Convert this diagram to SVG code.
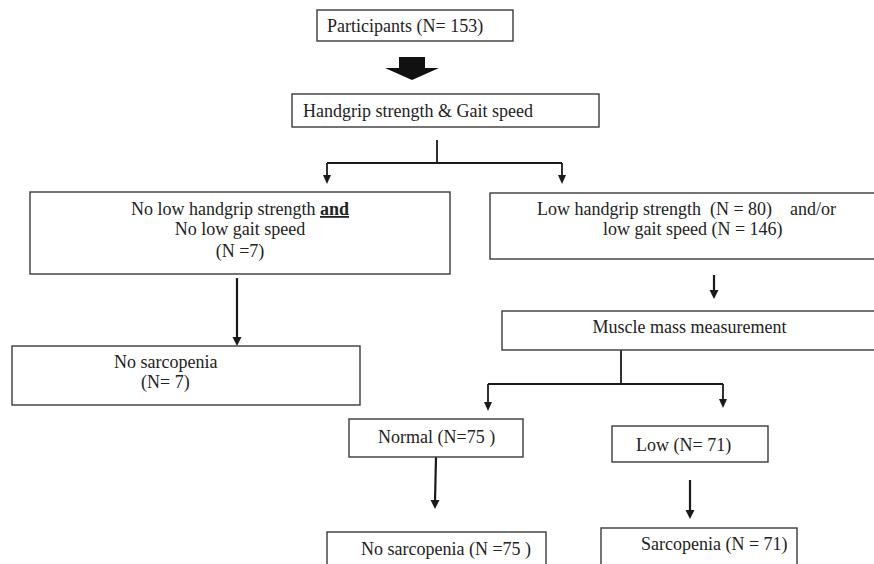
<svg xmlns="http://www.w3.org/2000/svg" width="874" height="564" viewBox="0 0 874 564">
<style>
.box{fill:#fff;stroke:#3a3a3a;stroke-width:1.4}
.t{font-family:"Liberation Serif","Times New Roman",serif;font-size:18px;fill:#222}
.c{fill:none;stroke:#1a1a1a;stroke-width:1.8}
.m{text-anchor:middle}
</style>
<rect width="874" height="564" fill="#fff"/>
<g id="connectors">
<polygon points="399,57 425,57 425,68 439,68 412,80 385,68 399,68" fill="#111"/>
<path class="c" d="M437,140 V163 M327,163 H562"/>
<path class="c" d="M327,163 V176"/>
<polygon points="323,175 331,175 327,184" fill="#1a1a1a"/>
<path class="c" d="M562,163 V176"/>
<polygon points="558,175 566,175 562,184" fill="#1a1a1a"/>
<path class="c" d="M237,278 V338" style="stroke-width:2.2"/>
<polygon points="232.5,337 241.5,337 237,346" fill="#1a1a1a"/>
<path class="c" d="M714,275 V291" style="stroke-width:2.2"/>
<polygon points="709.5,290 718.5,290 714,299" fill="#1a1a1a"/>
<path class="c" d="M621,350 V384 M488,384 H723"/>
<path class="c" d="M488,384 V403"/>
<polygon points="484,402 492,402 488,411" fill="#1a1a1a"/>
<path class="c" d="M723,384 V400"/>
<polygon points="719,399 727,399 723,408" fill="#1a1a1a"/>
<path class="c" d="M436,457 L435,501" style="stroke-width:2.2"/>
<polygon points="430.5,500 439.5,500 435,509" fill="#1a1a1a"/>
<path class="c" d="M690,480 V511" style="stroke-width:2.2"/>
<polygon points="685.5,510 694.5,510 690,519" fill="#1a1a1a"/>
</g>
<g id="participants">
<rect class="box" x="317" y="10" width="196" height="31"/>
<text class="t" x="327" y="32">Participants (N= 153)</text>
</g>
<g id="handgrip">
<rect class="box" x="292" y="94" width="307" height="33"/>
<text class="t" x="303" y="117">Handgrip strength &amp; Gait speed</text>
</g>
<g id="no-low">
<rect class="box" x="30" y="192" width="420" height="82"/>
<text class="t m" x="240" y="215">No low handgrip strength <tspan font-weight="bold" text-decoration="underline">and</tspan></text>
<text class="t m" x="240" y="235">No low gait speed</text>
<text class="t m" x="240" y="257">(N =7)</text>
</g>
<g id="low">
<rect class="box" x="490" y="193" width="394" height="66"/>
<text class="t" x="537" y="215" xml:space="preserve" style="white-space:pre">Low handgrip strength  (N = 80)    and/or</text>
<text class="t" x="603" y="235">low gait speed (N = 146)</text>
</g>
<g id="no-sarcopenia-1">
<rect class="box" x="12" y="346" width="348" height="59"/>
<text class="t" x="114" y="368">No sarcopenia</text>
<text class="t" x="141" y="388">(N= 7)</text>
</g>
<g id="muscle">
<rect class="box" x="502" y="311" width="382" height="39"/>
<text class="t m" x="689.5" y="333">Muscle mass measurement</text>
</g>
<g id="normal">
<rect class="box" x="349" y="419" width="174" height="38"/>
<text class="t" x="378" y="443">Normal (N=75 )</text>
</g>
<g id="low-mass">
<rect class="box" x="612" y="426" width="156" height="36"/>
<text class="t" x="636" y="451">Low (N= 71)</text>
</g>
<g id="no-sarcopenia-2">
<rect class="box" x="327" y="532" width="219" height="40"/>
<text class="t" x="361" y="555">No sarcopenia (N =75 )</text>
</g>
<g id="sarcopenia">
<rect class="box" x="601" y="528" width="196" height="44"/>
<text class="t" x="641" y="550">Sarcopenia (N = 71)</text>
</g>
</svg>
